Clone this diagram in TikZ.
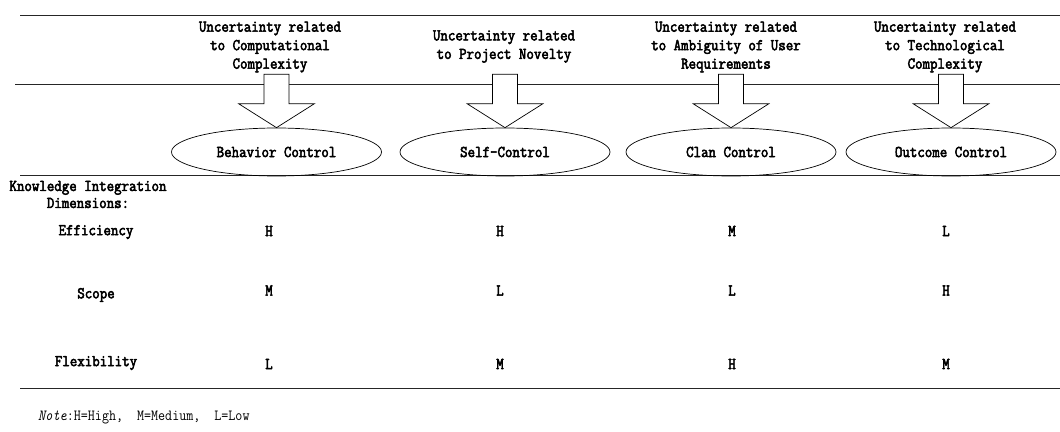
\documentclass[tikz,border=0pt]{standalone}
\usepackage{fontspec}
\setmainfont{Latin Modern Mono}[FakeStretch=0.88,BoldFont={Latin Modern Mono},BoldFeatures={FakeBold=3}]
\usetikzlibrary{shapes.geometric}
\begin{document}
\begin{tikzpicture}[x=1pt,y=-1pt,
  rule/.style={line width=0.9pt,black!85},
  hdr/.style={font=\fontsize{16.5}{18.5}\selectfont\bfseries,align=center,inner sep=0},
  ctrl/.style={draw,ellipse,line width=0.7pt,minimum width=210,minimum height=48,inner sep=0,font=\fontsize{16.5}{18.5}\selectfont\bfseries},
  rowlbl/.style={font=\fontsize{16.5}{17}\selectfont\bfseries,align=center,inner sep=0},
  val/.style={font=\fontsize{16.5}{18.5}\selectfont\bfseries,inner sep=0},
  blockarrow/.style={draw,fill=white,line width=0.7pt,line join=miter},
  notestyle/.style={font=\fontsize{15.5}{16}\selectfont,anchor=west,inner sep=0}
]
\useasboundingbox (0,0) rectangle (1060,431);
% table rules
\draw[rule] (20,15) -- (1060,15);
\draw[rule] (15,84) -- (1060,84);
\draw[rule] (20,175.5) -- (1060,175.5);
\draw[rule] (20,388) -- (1060,388);
% headers
\node[hdr] (h1) at (270,47) {Uncertainty related\\to Computational\\Complexity};
\node[hdr] (h2) at (504,46.5) {Uncertainty related\\to Project Novelty};
\node[hdr] (h3) at (726,47) {Uncertainty related\\to Ambiguity of User\\Requirements};
\node[hdr] (h4) at (945,47) {Uncertainty related\\to Technological\\Complexity};
% control ellipses
\node[ctrl] (e1) at (276.5,152) {Behavior Control};
\node[ctrl] (e2) at (505,152) {Self-Control};
\node[ctrl] (e3) at (731,152) {Clan Control};
\node[ctrl] (e4) at (951,152) {Outcome Control};
% block arrows from headers to ellipses
\foreach \e in {e1,e2,e3,e4}{
  \draw[blockarrow] (\e.north) -- ++(-38,-24) -- ++(25.5,0) -- ++(0,-29.5) -- ++(25,0) -- ++(0,29.5) -- ++(25.5,0) -- cycle;
}
% row labels
\node[rowlbl] (kid) at (88,194.5) {Knowledge Integration\\Dimensions:};
\node[rowlbl] (r1) at (96,232) {Efficiency};
\node[rowlbl] (r2) at (96,295) {Scope};
\node[rowlbl] (r3) at (96,363) {Flexibility};
% values
\node[val] (v11) at (269,231) {H};
\node[val] (v12) at (500,231) {H};
\node[val] (v13) at (732,231) {M};
\node[val] (v14) at (946,231) {L};
\node[val] (v21) at (269,290.5) {M};
\node[val] (v22) at (500,290.5) {L};
\node[val] (v23) at (732,290.5) {L};
\node[val] (v24) at (946,290.5) {H};
\node[val] (v31) at (269,364) {L};
\node[val] (v32) at (500,364) {M};
\node[val] (v33) at (732,364) {H};
\node[val] (v34) at (946,364) {M};
% note
\node[notestyle] (note) at (38,417) {\textit{Note}:H=High,\ \ M=Medium,\ \ L=Low};
\end{tikzpicture}
\end{document}
